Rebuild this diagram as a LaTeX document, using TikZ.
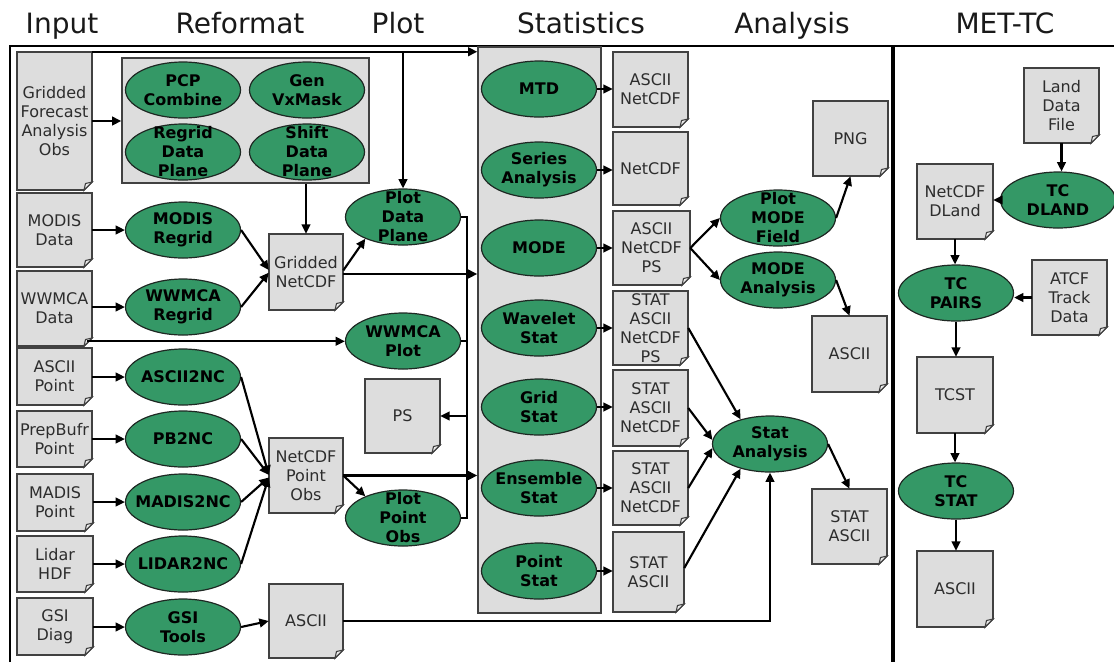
\documentclass[tikz,border=0pt]{standalone}
\usepackage{fontspec}
\setmainfont{DejaVu Sans}
\usetikzlibrary{shapes.geometric,arrows.meta,calc}
\definecolor{ellgreen}{RGB}{52,152,102}
\definecolor{elledge}{RGB}{30,40,35}
\definecolor{docgray}{RGB}{221,221,221}
\definecolor{docedge}{RGB}{65,65,65}
\definecolor{doctxt}{RGB}{45,45,45}
\tikzset{
  docshape/.style={draw=docedge, fill=docgray, line width=1.2pt, line join=miter},
  docfold/.style={draw=docedge, fill=docgray!60!white, line width=0.8pt},
  doctext/.style={rectangle, inner sep=0pt, align=center, text=doctxt,
    font=\fontsize{12pt}{14.25pt}\selectfont},
  procshape/.style={ellipse, draw=elledge, fill=ellgreen, line width=0.9pt,
    minimum width=86.25pt, minimum height=42pt, inner sep=0pt},
  proctext/.style={inner sep=0pt, align=center, text=black,
    font=\fontsize{12pt}{14.25pt}\selectfont\bfseries},
  graybox/.style={rectangle, draw=docedge, fill=docgray, line width=1pt, inner sep=0pt},
  header/.style={anchor=base, font=\fontsize{21pt}{25pt}\selectfont, text=black!90},
  ln/.style={draw=black, line width=1.6pt},
  arr/.style={draw=black, line width=1.6pt, -{Triangle[length=7pt,width=6.5pt]}},
}
\newcommand\docbox[6]{%
  \filldraw[docshape] ({#2},{#3}) -- ({#4},{#3}) -- ({#4},{#5-8}) -- ({#4-8},{#5}) -- ({#2},{#5}) -- cycle;
  \filldraw[docfold] ({#4},{#5-8}) -- ({#4-8},{#5}) -- ({#4-6.5},{#5-6.5}) -- cycle;
  \node[doctext, minimum width={(#4-#2)*0.75pt}, minimum height={(#5-#3)*0.75pt}] (#1) at ({(#2+#4)/2},{(#3+#5)/2}) {#6};%
}
\newcommand\procell[4]{%
  \node[procshape] (#1) at (#2,#3) {};
  \node[proctext] at (#1.center) {#4};%
}
\begin{document}
\begin{tikzpicture}[x=0.75pt,y=-0.75pt]
\useasboundingbox (0,0) rectangle (1114,662);
% headers
\node[header] (hinput) at (62,33) {Input};
\node[header] (hreformat) at (240,33) {Reformat};
\node[header] (hplot) at (398,33) {Plot};
\node[header] (hstat) at (581,33) {Statistics};
\node[header] (hanalysis) at (792,33) {Analysis};
\node[header] (hmettc) at (1005,33) {MET-TC};
% frame
\draw[line width=1.6pt] (10,662) -- (10,46) -- (1114,46);
\draw[line width=2.4pt] (893,46) -- (893,662);
% group boxes
\node[graybox, minimum width={247*0.75pt}, minimum height={125*0.75pt}] (refbox) at (245.5,120.5) {};
\node[graybox, minimum width={123*0.75pt}, minimum height={566*0.75pt}] (statbox) at (539.5,330) {};
% input docs
\docbox{gfdoc}{17}{52}{92}{190}{Gridded\\Forecast\\Analysis\\Obs}
\docbox{modisdoc}{17}{193}{92}{267}{MODIS\\Data}
\docbox{wwdoc}{17}{271}{92}{346}{WWMCA\\Data}
\docbox{asciidoc}{17}{348}{92}{405}{ASCII\\Point}
\docbox{pbdoc}{17}{411}{92}{467}{PrepBufr\\Point}
\docbox{madisdoc}{17}{474}{93}{531}{MADIS\\Point}
\docbox{lidardoc}{17}{536}{93}{592}{Lidar\\HDF}
\docbox{gsidoc}{17}{598}{93}{655}{GSI\\Diag}
% reformat
\procell{pcp}{183}{90}{PCP\\Combine}
\procell{genvx}{307}{90}{Gen\\VxMask}
\procell{regrid}{183}{152}{Regrid\\Data\\Plane}
\procell{shift}{307}{152}{Shift\\Data\\Plane}
\procell{modisr}{183}{230}{MODIS\\Regrid}
\procell{wwr}{183}{307}{WWMCA\\Regrid}
\procell{atonc}{183}{377}{ASCII2NC}
\procell{pbnc}{183}{439}{PB2NC}
\procell{madisnc}{183}{502}{MADIS2NC}
\procell{lidarnc}{183}{564}{LIDAR2NC}
\procell{gsitools}{183}{627}{GSI\\Tools}
\docbox{gnc}{269}{234}{343}{310}{Gridded\\NetCDF}
\docbox{npo}{269}{438}{343}{513}{NetCDF\\Point\\Obs}
\docbox{gsiascii}{269}{584}{343}{658}{ASCII}
% plot
\procell{plotdp}{403}{217}{Plot\\Data\\Plane}
\procell{wwplot}{403}{341}{WWMCA\\Plot}
\procell{plotpo}{403}{518}{Plot\\Point\\Obs}
\docbox{ps}{365}{379}{440}{453}{PS}
% statistics
\procell{mtd}{539}{89}{MTD}
\procell{series}{539}{170}{Series\\Analysis}
\procell{mode}{539}{248}{MODE}
\procell{wavelet}{539}{328}{Wavelet\\Stat}
\procell{grid}{539}{407}{Grid\\Stat}
\procell{ens}{539}{488}{Ensemble\\Stat}
\procell{point}{539}{571}{Point\\Stat}
\docbox{mtddoc}{613}{52}{688}{127}{ASCII\\NetCDF}
\docbox{seriesdoc}{613}{132}{688}{205}{NetCDF}
\docbox{modedoc}{613}{211}{690}{285}{ASCII\\NetCDF\\PS}
\docbox{wavedoc}{613}{291}{688}{365}{STAT\\ASCII\\NetCDF\\PS}
\docbox{griddoc}{613}{370}{688}{446}{STAT\\ASCII\\NetCDF}
\docbox{ensdoc}{613}{451}{688}{525}{STAT\\ASCII\\NetCDF}
\docbox{pointdoc}{613}{532}{684}{612}{STAT\\ASCII}
% analysis
\procell{plotmf}{778}{218}{Plot\\MODE\\Field}
\procell{modean}{778}{280}{MODE\\Analysis}
\procell{statan}{770}{444}{Stat\\Analysis}
\docbox{png}{813}{101}{888}{176}{PNG}
\docbox{anaascii}{812}{316}{887}{392}{ASCII}
\docbox{statascii}{812}{489}{887}{564}{STAT\\ASCII}
% MET-TC
\docbox{landdoc}{1024}{68}{1099}{143}{Land\\Data\\File}
\procell{tcdland}{1058}{200}{TC\\DLAND}
\docbox{ncdland}{917}{164}{993}{239}{NetCDF\\DLand}
\procell{tcpairs}{956}{293}{TC\\PAIRS}
\docbox{atcf}{1032}{260}{1107}{335}{ATCF\\Track\\Data}
\docbox{tcst}{917}{357}{993}{433}{TCST}
\procell{tcstat}{956}{491}{TC\\STAT}
\docbox{tcascii}{917}{551}{993}{627}{ASCII}
% ---- connectors ----
\draw[arr] (gfdoc.north east) -- (gfdoc.north east -| statbox.west);
\draw[arr] (plotdp.north |- gfdoc.north) -- (plotdp.north);
\draw[arr] (gfdoc.east) -- (gfdoc.east -| refbox.west);
\draw[arr] (refbox.south -| gnc.north) -- (gnc.north);
\draw[arr] (modisdoc.east |- modisr.west) -- (modisr.west);
\draw[arr] (wwdoc.east |- wwr.west) -- (wwr.west);
\draw[arr] (modisr.east) -- ([yshift=1.5pt]gnc.west);
\draw[arr] (wwr.east) -- ([yshift=-0.5pt]gnc.west);
\coordinate (gncout) at ([yshift=1.2pt]gnc.east);
\coordinate (gncst) at ([yshift=-1.5pt]gnc.east);
\draw[arr] (gncout) -- (plotdp.210);
\draw[arr] (gncst) -- (gncst -| statbox.west);
\coordinate (wwout) at ([xshift=-3.75pt,yshift=3.75pt]wwdoc.south east);
\draw[arr] (wwout) -- (wwout -| wwplot.west);
% plot collector bus
\coordinate (bus) at ([xshift=4.5pt]plotdp.east);
\draw[ln] (plotdp.east) -- (bus) |- (plotpo.east);
\draw[ln] (wwplot.east) -- (wwplot.east -| bus);
\draw[arr] (bus |- ps.east) -- (ps.east);
% point obs
\draw[arr] (asciidoc.east |- atonc.west) -- (atonc.west);
\draw[arr] (pbdoc.east |- pbnc.west) -- (pbnc.west);
\draw[arr] (madisdoc.east |- madisnc.west) -- (madisnc.west);
\draw[arr] (lidardoc.east |- lidarnc.west) -- (lidarnc.west);
\draw[arr] (gsidoc.east |- gsitools.west) -- (gsitools.west);
\draw[arr] (atonc.east) -- ([yshift=0.5pt]npo.west);
\draw[arr] (pbnc.east) -- ([yshift=0.5pt]npo.west);
\draw[arr] (madisnc.east) -- ([yshift=-1.5pt]npo.west);
\draw[arr] (lidarnc.east) -- ([yshift=-1.5pt]npo.west);
\draw[arr] (npo.east) -- (plotpo.150);
\draw[arr] (npo.east) -- (npo.east -| statbox.west);
\draw[arr] (gsitools.east) -- (gsiascii.west);
\draw[arr] (gsiascii.east) -| (statan.south);
% statistics outputs
\foreach \s/\d in {mtd/mtddoc,series/seriesdoc,mode/modedoc,wavelet/wavedoc,grid/griddoc,ens/ensdoc,point/pointdoc}
  \draw[arr] (\s.east) -- (\s.east -| \d.west);
\draw[arr] (modedoc.east) -- (plotmf.west);
\draw[arr] (modedoc.east) -- (modean.west);
\draw[arr] (plotmf.east) -- (png.south);
\draw[arr] (modean.east) -- (anaascii.north);
\draw[arr] (wavedoc.east) -- (statan.140);
\draw[arr] (griddoc.east) -- (statan.176);
\draw[arr] (ensdoc.east) -- (statan.184);
\draw[arr] ([yshift=3pt]pointdoc.east) -- (statan.220);
\draw[arr] (statan.east) -- (statascii.north);
% MET-TC
\draw[arr] (landdoc.south) -- (landdoc.south |- tcdland.north);
\draw[arr] (tcdland.west) -- (tcdland.west -| ncdland.east);
\draw[arr] (ncdland.south) -- (ncdland.south |- tcpairs.north);
\draw[arr] (atcf.west) -- (atcf.west -| tcpairs.east);
\draw[arr] (tcpairs.south) -- (tcpairs.south |- tcst.north);
\draw[arr] (tcst.south) -- (tcst.south |- tcstat.north);
\draw[arr] (tcstat.south) -- (tcstat.south |- tcascii.north);
\end{tikzpicture}
\end{document}
